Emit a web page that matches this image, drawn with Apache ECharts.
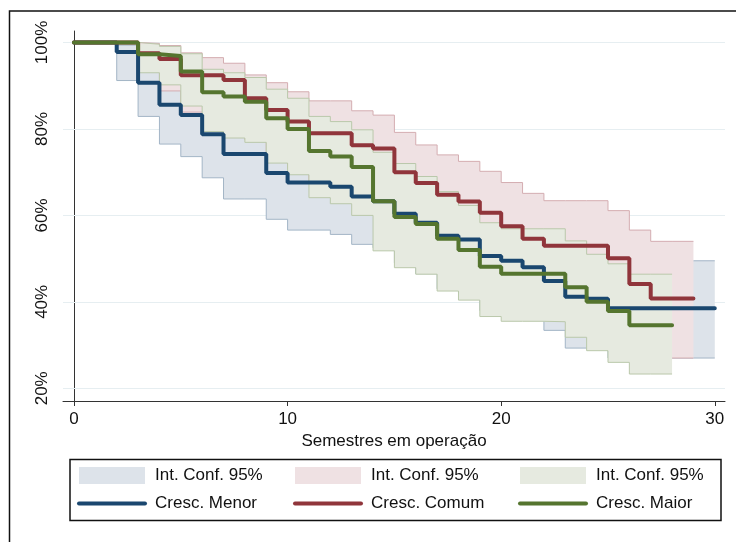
<!DOCTYPE html>
<html>
<head>
<meta charset="utf-8">
<script src="https://cdn.jsdelivr.net/npm/echarts@6/dist/echarts.min.js"></script>
<style>
html,body{margin:0;padding:0;background:#fff;}
#c{width:736px;height:542px;}
</style>
</head>
<body>
<div id="c"></div>
<script>
// ---- data (survival in %, by semester; step functions) ----
const semestres = [0,1,2,3,4,5,6,7,8,9,10,11,12,13,14,15,16,17,18,19,20,21,22,23,24,25,26,27,28,29,30];

const menorEst = [100,100,97.8,90.7,85.6,83.2,78.8,74.2,74.2,69.8,67.6,67.6,66.6,64.4,63.3,60.4,58.3,55.3,54.4,50.6,49.5,48.0,44.8,41.2,40.7,38.5,38.5,38.5,38.5,38.5,38.5];
const menorLo  = [100,100,91.2,82.9,76.5,73.6,68.7,63.8,63.8,59.1,56.6,56.6,55.6,53.3,52.5,49.0,46.5,43.0,42.0,38.0,37.0,36.0,33.4,29.3,29.0,27.0,27.0,27.0,27.0,27.0,27.0];
const menorHi  = [100,100,99.4,95.5,91.5,89.8,86.3,82.5,82.5,78.5,76.5,76.5,75.6,73.8,72.8,70.5,68.7,66.2,65.2,61.8,60.8,59.6,56.5,53.2,52.8,49.5,49.5,49.5,49.5,49.5,49.5];

const comumEst = [100,100,100,97.5,96.2,92.4,92.4,91.3,87.1,84.4,81.7,79.0,79.0,76.2,75.5,70.0,67.5,64.8,63.2,60.6,57.5,54.6,53.0,53.0,53.0,50.1,44.1,40.8,40.8,40.8];
const comumLo  = [100,100,100,93.5,88.8,83.9,83.9,82.5,77.5,74.0,70.8,68.0,68.0,64.5,63.5,57.5,54.5,51.5,49.5,46.5,43.0,40.0,38.0,38.0,38.0,35.0,29.5,27.0,27.0,27.0];
const comumHi  = [100,100,100,99.8,99.3,97.6,96.5,95.2,92.5,90.7,88.6,86.5,86.5,84.2,83.2,79.2,76.3,74.0,72.5,70.2,67.6,65.1,63.4,63.4,63.4,61.1,56.6,54.0,54.0,54.0];

const maiorEst = [100,100,100,97.3,96.9,93.3,88.5,87.5,86.3,82.5,80.0,74.9,73.6,71.2,63.3,59.6,58.0,54.6,52.0,48.1,46.5,46.5,46.5,43.4,40.0,37.9,34.6,34.6,34.6];
const maiorLo  = [100,100,100,93.0,90.2,85.3,79.4,77.9,76.9,72.1,69.4,64.1,62.7,60.0,51.8,47.9,46.4,42.5,40.4,36.6,35.5,35.5,35.4,31.8,28.7,26.0,23.3,23.3,23.3];
const maiorHi  = [100,100,100,99.6,99.1,97.4,93.8,93.0,91.9,89.2,87.1,82.9,81.7,79.8,74.6,72.0,69.0,65.5,62.3,58.3,56.9,56.9,56.9,54.1,51.0,48.8,46.4,46.4,46.4];

const xTicks = [0,10,20,30];
const yTicks = [20,40,60,80,100];

const FONT = '"Liberation Sans", Arial, sans-serif';
const colors = {
  menor: {line:'#1a476f', fill:'#dde3ea', edge:'#a3b5c6'},
  comum: {line:'#90353b', fill:'#efe1e3', edge:'#d4adb1'},
  maior: {line:'#55752f', fill:'#e6eae0', edge:'#bac8ab'}
};

function pts(arr){ return arr.map((v,i)=>[semestres[i], v]); }

// filled step band drawn as one polygon through the axis scales
function bandFill(name, lo, hi, c, z){
  const n = lo.length;
  return {
    type:'custom', name:name, silent:true, z:z,
    data: lo.map((v,i)=>[semestres[i], v, hi[i]]),
    encode:{x:0, y:[1,2]},
    renderItem: function(params, api){
      if (params.dataIndex !== 0) return null;
      const top = [], bot = [];
      for (let i = 0; i < n; i++){
        top.push(api.coord([semestres[i], hi[i]]));
        if (i < n-1) top.push(api.coord([semestres[i+1], hi[i]]));
        bot.push(api.coord([semestres[i], lo[i]]));
        if (i < n-1) bot.push(api.coord([semestres[i+1], lo[i]]));
      }
      const points = top.concat(bot.reverse());
      return {type:'polygon', shape:{points:points}, style:{fill:c.fill, stroke:null}};
    }
  };
}

function edge(name, arr, c, z){
  return {type:'line', name:name, step:'end', data: pts(arr), symbol:'none', showSymbol:false, silent:true,
          lineStyle:{color:c.edge, width:1}, z:z};
}

function est(name, arr, color){
  return {type:'line', name:name, step:'end', data: pts(arr), symbol:'none', showSymbol:false, silent:true,
          lineStyle:{color:color, width:4, cap:'round'}, itemStyle:{color:color}, z:10};
}

const series = [
  {type:'line', name:'grid', data:[], silent:true, z:1,
   markLine:{silent:true, symbol:'none', z:1, animation:false, label:{show:false},
             lineStyle:{color:'#e6eef1', width:1, type:'solid'},
             data: yTicks.map(v=>({yAxis:v}))}},
  bandFill('IC Menor', menorLo, menorHi, colors.menor, 2),
  edge('IC Menor lo', menorLo, colors.menor, 3),
  edge('IC Menor hi', menorHi, colors.menor, 3),
  bandFill('IC Comum', comumLo, comumHi, colors.comum, 4),
  edge('IC Comum lo', comumLo, colors.comum, 5),
  edge('IC Comum hi', comumHi, colors.comum, 5),
  bandFill('IC Maior', maiorLo, maiorHi, colors.maior, 6),
  edge('IC Maior lo', maiorLo, colors.maior, 7),
  edge('IC Maior hi', maiorHi, colors.maior, 7),
  est('Cresc. Menor', menorEst, colors.menor.line),
  est('Cresc. Comum', comumEst, colors.comum.line),
  est('Cresc. Maior', maiorEst, colors.maior.line)
];

function legendCol(left, ic, lineName, c){
  return {
    orient:'vertical', left:left, top:467, padding:0, itemGap:11,
    itemWidth:66, itemHeight:17, selectedMode:false,
    formatter: n => n.indexOf('IC ') === 0 ? 'Int. Conf. 95%' : n,
    textStyle:{fontSize:17, color:'#111', fontFamily:FONT, padding:[0,0,0,5]},
    data:[
      {name:ic, icon:'rect', itemStyle:{color:c.fill, borderWidth:0}},
      {name:lineName, itemStyle:{color:c.line, opacity:0}, lineStyle:{color:c.line, width:4}}
    ]
  };
}

const chart = echarts.init(document.getElementById('c'), null, {renderer:'canvas'});
chart.setOption({
  animation:false,
  backgroundColor:'#ffffff',
  grid:{left:63, top:31, width:662, height:370, containLabel:false},
  xAxis:{
    type:'value', min:-0.515, max:30.478,
    axisLine:{show:true, onZero:false, lineStyle:{color:'#333', width:1}},
    axisTick:{show:true, customValues:xTicks, length:5, lineStyle:{color:'#333'}},
    axisLabel:{customValues:xTicks, fontSize:17, color:'#111', margin:10, fontFamily:FONT},
    splitLine:{show:false},
    name:'Semestres em operação', nameLocation:'middle', nameGap:27,
    nameTextStyle:{fontSize:17, color:'#111', fontFamily:FONT}
  },
  yAxis:{
    type:'value', min:17.06, max:102.66,
    axisLine:{show:true, lineStyle:{color:'#333', width:1}},
    axisTick:{show:true, customValues:yTicks, length:8, lineStyle:{color:'#333'}},
    axisLabel:{customValues:yTicks, rotate:90, formatter:v=>v+'%', fontSize:17, color:'#111', margin:12, fontFamily:FONT},
    splitLine:{show:false}
  },
  legend:[
    legendCol(77,'IC Menor','Cresc. Menor',colors.menor),
    legendCol(293,'IC Comum','Cresc. Comum',colors.comum),
    legendCol(518,'IC Maior','Cresc. Maior',colors.maior)
  ],
  graphic:[
    {type:'rect', silent:true, z:100, shape:{x:70, y:459.5, width:651, height:61},
     style:{fill:'none', stroke:'#111', lineWidth:1.5}},
    {type:'rect', silent:true, z:100, shape:{x:9.5, y:11, width:800, height:600},
     style:{fill:'none', stroke:'#111', lineWidth:1.5}}
  ],
  series: series
});
</script>
</body>
</html>
